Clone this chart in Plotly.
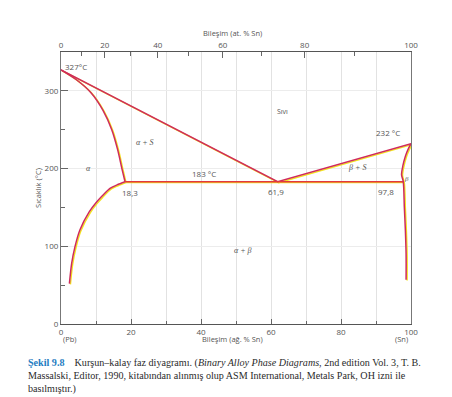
import numpy as np
import plotly.graph_objects as go

# ---------------- data ----------------
# liquidus (wt% Sn, °C)
liq_x = [0, 61.9, 100]
liq_t = [327, 183, 232]
# alpha solidus
asol_x = [0, 4.5, 8.5, 12, 14.5, 16.2, 17.4, 18.3]
asol_t = [327, 314, 298, 275, 250, 224, 200, 183]
# alpha solvus
asolv_x = [18.3, 16.0, 14.0, 11.6, 10.0, 8.1, 5.4, 4.0, 3.05, 2.4]
asolv_t = [183, 179, 174.6, 164, 156, 144.5, 121, 99.5, 78, 52]
# eutectic isotherm
eut_x = [18.3, 61.9, 97.8]
eut_t = [183, 183, 183]
# beta solidus + solvus
beta_x = [100, 99.2, 98.4, 97.7, 97.3, 97.8, 98.1, 98.4, 98.6, 98.6]
beta_t = [232, 225, 216, 204, 192, 183, 150, 120, 90, 57]

x_ticks = [0, 20, 40, 60, 80, 100]
x_minor = [10, 30, 50, 70, 90]
y_ticks = [0, 100, 200, 300]
y_minor = [50, 150, 250]
at_ticks = [0, 20, 40, 60, 80, 100]
at_minor = [10, 30, 50, 70, 90]

M_SN, M_PB = 118.71, 207.2


def at_to_wt(a):
    a = np.asarray(a, dtype=float)
    return 100 * a * M_SN / (a * M_SN + (100 - a) * M_PB)


RED = "#cf2b5c"
EUT = "#e2383e"
YEL = "#f2e41c"
GRAY = "#666666"

fig = go.Figure()

curves = [(liq_x, liq_t, RED, "linear"), (asol_x, asol_t, RED, "spline"),
          (asolv_x, asolv_t, RED, "spline"), (eut_x, eut_t, EUT, "linear"),
          (beta_x, beta_t, RED, "spline")]
for cx, ct, col, shp in curves:
    fig.add_trace(go.Scatter(x=np.array(cx) + 0.3, y=np.array(ct) - 1.1, mode="lines",
                             line=dict(color=YEL, width=1.4, shape=shp, smoothing=0.8),
                             showlegend=False, hoverinfo="skip"))
for cx, ct, col, shp in curves:
    fig.add_trace(go.Scatter(x=cx, y=ct, mode="lines",
                             line=dict(color=col, width=1.5, shape=shp, smoothing=0.8),
                             showlegend=False))

# dummy trace for the top (atomic %) axis
fig.add_trace(go.Scatter(x=[None], y=[None], xaxis="x2", showlegend=False))

SANS = "Open Sans, Arial, sans-serif"
SERIF = "Liberation Serif, Times New Roman, serif"
TXT = "#555555"

labels = [
    (0.6, 331, "327°C", "left", 8, SANS),
    (63.4, 273, "Sıvı", "center", 7, SANS),
    (93.5, 246, "232 °C", "center", 8, SANS),
    (84.6, 201, "<i>β + S</i>", "center", 8, SERIF),
    (98.6, 187, "<i>β</i>", "center", 7, SERIF),
    (61.5, 171, "61,9", "center", 8, SANS),
    (92.9, 171, "97,8", "center", 8, SANS),
    (40.9, 194, "183 °C", "center", 8, SANS),
    (24.0, 233, "<i>α + S</i>", "center", 8, SERIF),
    (7.8, 200, "<i>α</i>", "center", 8, SERIF),
    (19.7, 169, "18,3", "center", 8, SANS),
    (52.0, 95, "<i>α + β</i>", "center", 8, SERIF),
]
for lx, ly, txt, xa, fs, fam in labels:
    fig.add_annotation(x=lx, y=ly, text=txt, showarrow=False, xanchor=xa,
                       font=dict(size=fs, color=TXT, family=fam))

# axis titles & extra texts (paper coords)
fig.add_annotation(xref="paper", yref="paper", x=0.49, y=1.096, text="Bileşim (at. % Sn)",
                   showarrow=False, font=dict(size=7.5, color=TXT, family=SANS))
fig.add_annotation(xref="paper", yref="paper", x=-0.086, y=0.5, text="Sıcaklık (°C)",
                   textangle=-90, showarrow=False, font=dict(size=7.5, color=TXT, family=SANS))
fig.add_annotation(xref="paper", yref="paper", x=0.0, y=-0.081, text="(Pb)",
                   showarrow=False, font=dict(size=7.5, color=TXT, family=SANS))
fig.add_annotation(xref="paper", yref="paper", x=0.49, y=-0.081, text="Bileşim (ağ. % Sn)",
                   showarrow=False, font=dict(size=7.5, color=TXT, family=SANS))
fig.add_annotation(xref="paper", yref="paper", x=0.997, y=-0.081, text="(Sn)",
                   showarrow=False, font=dict(size=7.5, color=TXT, family=SANS))

caption = ("<span style='color:#1f7cc1'><b>Şekil 9.8</b></span>\u00a0\u00a0\u00a0\u00a0Kurşun–kalay faz diyagramı. "
           "(<i>Binary Alloy Phase Diagrams</i>, 2nd edition Vol. 3, T. B.<br>"
           "Massalski, Editor, 1990, kitabından alınmış olup ASM International, Metals Park, OH izni ile<br>"
           "basılmıştır.)")
fig.add_annotation(xref="paper", yref="paper", x=-0.1, y=-0.115, xanchor="left", yanchor="top",
                   align="left", text=caption, showarrow=False,
                   font=dict(size=10.1, color="#2a2a2a", family=SERIF))

# the page body adds an 8px offset, so the figure is sized to fit the window
fig.update_layout(
    width=444, height=389,
    margin=dict(l=53, r=41, t=44, b=73),
    paper_bgcolor="white", plot_bgcolor="white",
    xaxis=dict(range=[0, 100], tickmode="array", tickvals=x_ticks, ticks="inside", ticklen=5,
               tickcolor=GRAY, showline=True, linecolor="#555555", linewidth=1.3,
               showgrid=True, gridcolor="#e2e2e2", gridwidth=1, zeroline=False, automargin=False,
               tickfont=dict(size=8, color=TXT, family=SANS),
               minor=dict(tickmode="array", tickvals=x_minor, ticks="inside", ticklen=3,
                          tickcolor=GRAY, showgrid=True, gridcolor="#e2e2e2")),
    xaxis2=dict(range=[0, 100], overlaying="x", side="top", tickmode="array",
                tickvals=list(at_to_wt(at_ticks)), ticktext=[str(v) for v in at_ticks],
                ticks="inside", ticklen=6, tickcolor=GRAY, showline=True, linecolor="#555555",
                linewidth=1.3, showgrid=False, zeroline=False, automargin=False,
                tickfont=dict(size=8, color=TXT, family=SANS),
                minor=dict(tickmode="array", tickvals=list(at_to_wt(at_minor)), ticks="inside",
                           ticklen=4, tickcolor=GRAY, showgrid=False)),
    yaxis=dict(range=[0, 350], tickmode="array", tickvals=y_ticks, ticks="inside", ticklen=7,
               tickcolor=GRAY, showline=True, linecolor="#777777", linewidth=1.2, mirror=True,
               showgrid=True, gridcolor="#ececec", zeroline=False, automargin=False,
               tickfont=dict(size=8, color=TXT, family=SANS),
               minor=dict(tickmode="array", tickvals=y_minor, ticks="inside", ticklen=4,
                          tickcolor=GRAY, showgrid=False)),
)

fig.write_html("out.html")
